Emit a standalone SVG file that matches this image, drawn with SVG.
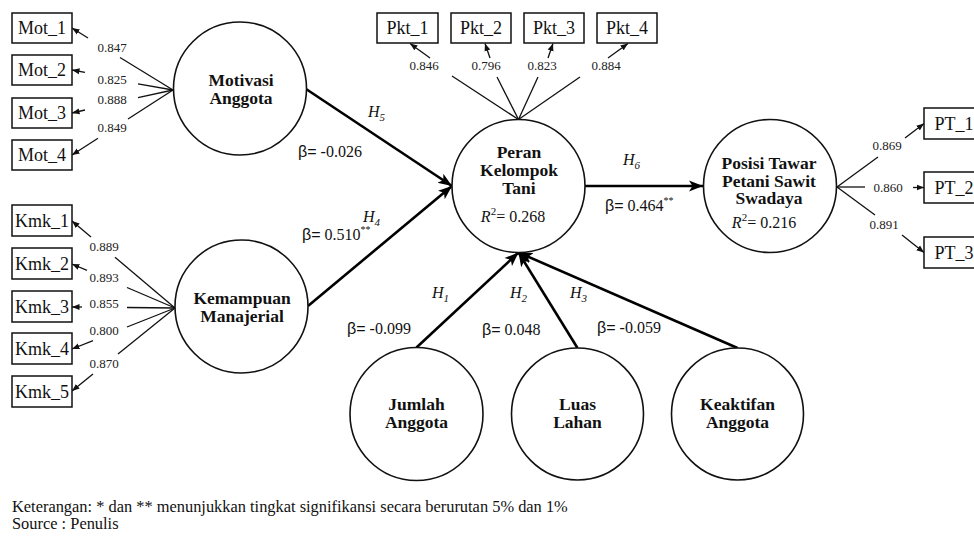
<svg xmlns="http://www.w3.org/2000/svg" width="974" height="537" viewBox="0 0 974 537">
<style>
text{font-family:"Liberation Serif","Times New Roman",serif;fill:#111}
.box{fill:#fff;stroke:#111;stroke-width:1.5}
.lv{fill:#fff;stroke:#111;stroke-width:1.6}
.bt{font-size:18px;text-anchor:middle}
.nm{font-size:17.5px;font-weight:bold;text-anchor:middle}
.ld{font-size:13px;text-anchor:middle;fill:#222}
.ind{stroke:#111;stroke-width:1.3;fill:none}
.pth{stroke:#000;stroke-width:2.6;fill:none}
.b{font-size:16px}
.s{font-family:"Liberation Sans",Arial,sans-serif}
.h{font-size:16px;font-style:italic}
.ft{font-size:16.4px}
</style>
<defs>
<marker id="sa" markerUnits="userSpaceOnUse" markerWidth="8" markerHeight="8" viewBox="0 0 8 8" refX="7.5" refY="4" orient="auto"><path d="M0,1 L7.5,4 L0,7 z" fill="#111"/></marker>
<marker id="la" markerUnits="userSpaceOnUse" markerWidth="15" markerHeight="12" viewBox="0 0 15 12" refX="14" refY="6" orient="auto"><path d="M0,0.5 L14,6 L0,11.5 L3.5,6 z" fill="#000"/></marker>
</defs>

<g id="connectors">
<line class="ind" x1="173" y1="90" x2="120" y2="57.5"/><line class="ind" x1="88" y1="38" x2="72" y2="28" marker-end="url(#sa)"/>
<line class="ind" x1="173" y1="90" x2="138" y2="83.8"/><line class="ind" x1="85" y1="72.3" x2="72" y2="70" marker-end="url(#sa)"/>
<line class="ind" x1="173" y1="90" x2="138" y2="97.6"/><line class="ind" x1="85" y1="110" x2="72" y2="113" marker-end="url(#sa)"/>
<line class="ind" x1="173" y1="90" x2="128" y2="119"/><line class="ind" x1="98" y1="138.3" x2="72" y2="155" marker-end="url(#sa)"/>
<line class="ind" x1="175" y1="308" x2="115" y2="257.3"/><line class="ind" x1="91" y1="237" x2="72" y2="221" marker-end="url(#sa)"/>
<line class="ind" x1="175" y1="308" x2="127" y2="287.5"/><line class="ind" x1="87" y1="270.4" x2="72" y2="264" marker-end="url(#sa)"/>
<line class="ind" x1="175" y1="308" x2="127" y2="307.5"/><line class="ind" x1="82" y1="307" x2="72" y2="307" marker-end="url(#sa)"/>
<line class="ind" x1="175" y1="308" x2="127" y2="327"/><line class="ind" x1="93" y1="340.6" x2="72" y2="349" marker-end="url(#sa)"/>
<line class="ind" x1="175" y1="308" x2="118" y2="354"/><line class="ind" x1="93" y1="374" x2="72" y2="391" marker-end="url(#sa)"/>
<line class="ind" x1="518.5" y1="119.5" x2="452" y2="76"/><line class="ind" x1="430" y1="58" x2="410" y2="43.5" marker-end="url(#sa)"/>
<line class="ind" x1="518.5" y1="119.5" x2="497" y2="77"/><line class="ind" x1="490" y1="58" x2="485" y2="43.5" marker-end="url(#sa)"/>
<line class="ind" x1="518.5" y1="119.5" x2="538" y2="77"/><line class="ind" x1="548" y1="58" x2="553" y2="43.5" marker-end="url(#sa)"/>
<line class="ind" x1="518.5" y1="119.5" x2="580" y2="77"/><line class="ind" x1="608" y1="58" x2="628" y2="43.5" marker-end="url(#sa)"/>
<line class="ind" x1="837" y1="187" x2="878" y2="157"/><line class="ind" x1="905" y1="138" x2="924" y2="123.5" marker-end="url(#sa)"/>
<line class="ind" x1="837" y1="187" x2="865" y2="187"/><line class="ind" x1="913" y1="187.5" x2="924" y2="187.5" marker-end="url(#sa)"/>
<line class="ind" x1="837" y1="187" x2="875" y2="215"/><line class="ind" x1="902" y1="235" x2="924" y2="252.5" marker-end="url(#sa)"/>
<line class="pth" x1="306" y1="89" x2="452" y2="186" marker-end="url(#la)"/>
<line class="pth" x1="308" y1="306" x2="452" y2="186" marker-end="url(#la)"/>
<line class="pth" x1="585" y1="186" x2="703" y2="186" marker-end="url(#la)"/>
<line class="pth" x1="416.5" y1="347.5" x2="518.5" y2="252.5" marker-end="url(#la)"/>
<line class="pth" x1="577.5" y1="348" x2="518.5" y2="252.5" marker-end="url(#la)"/>
<line class="pth" x1="737.5" y1="348" x2="518.5" y2="252.5" marker-end="url(#la)"/>
</g>

<g id="loadings">
<text class="ld" x="112" y="52">0.847</text>
<text class="ld" x="112" y="84">0.825</text>
<text class="ld" x="112" y="104">0.888</text>
<text class="ld" x="112" y="132">0.849</text>
<text class="ld" x="104" y="251">0.889</text>
<text class="ld" x="104" y="282">0.893</text>
<text class="ld" x="104" y="308">0.855</text>
<text class="ld" x="104" y="335">0.800</text>
<text class="ld" x="104" y="368">0.870</text>
<text class="ld" x="424" y="70">0.846</text>
<text class="ld" x="486" y="70">0.796</text>
<text class="ld" x="542" y="70">0.823</text>
<text class="ld" x="606" y="70">0.884</text>
<text class="ld" x="887" y="150">0.869</text>
<text class="ld" x="888" y="192">0.860</text>
<text class="ld" x="884" y="229">0.891</text>
</g>

<g id="path-labels">
<text class="h" x="368" y="117">H<tspan font-size="11" dy="4">5</tspan></text>
<text class="h" x="363" y="222">H<tspan font-size="11" dy="4">4</tspan></text>
<text class="h" x="623" y="165">H<tspan font-size="11" dy="4">6</tspan></text>
<text class="h" x="432" y="298">H<tspan font-size="11" dy="4">1</tspan></text>
<text class="h" x="510" y="298">H<tspan font-size="11" dy="4">2</tspan></text>
<text class="h" x="570" y="298">H<tspan font-size="11" dy="4">3</tspan></text>
<text class="b" x="298" y="157"><tspan class="s">β=</tspan> -0.026</text>
<text class="b" x="302" y="240"><tspan class="s">β=</tspan> 0.510<tspan font-size="10" dy="-7">**</tspan></text>
<text class="b" x="605" y="211"><tspan class="s">β=</tspan> 0.464<tspan font-size="10" dy="-7">**</tspan></text>
<text class="b" x="347" y="334"><tspan class="s">β=</tspan> -0.099</text>
<text class="b" x="482" y="335"><tspan class="s">β=</tspan> 0.048</text>
<text class="b" x="597" y="333"><tspan class="s">β=</tspan> -0.059</text>
</g>

<g id="Mot_1"><rect class="box" x="12" y="13" width="60" height="30"/><text class="bt" x="42" y="34">Mot_1</text></g>
<g id="Mot_2"><rect class="box" x="12" y="55" width="60" height="30"/><text class="bt" x="42" y="76">Mot_2</text></g>
<g id="Mot_3"><rect class="box" x="12" y="98" width="60" height="30"/><text class="bt" x="42" y="119">Mot_3</text></g>
<g id="Mot_4"><rect class="box" x="12" y="140" width="60" height="30"/><text class="bt" x="42" y="161">Mot_4</text></g>

<g id="Kmk_1"><rect class="box" x="12" y="205" width="60" height="31"/><text class="bt" x="42" y="227">Kmk_1</text></g>
<g id="Kmk_2"><rect class="box" x="12" y="248" width="60" height="31"/><text class="bt" x="42" y="270">Kmk_2</text></g>
<g id="Kmk_3"><rect class="box" x="12" y="291" width="60" height="31"/><text class="bt" x="42" y="313">Kmk_3</text></g>
<g id="Kmk_4"><rect class="box" x="12" y="333" width="60" height="31"/><text class="bt" x="42" y="355">Kmk_4</text></g>
<g id="Kmk_5"><rect class="box" x="12" y="376" width="60" height="31"/><text class="bt" x="42" y="398">Kmk_5</text></g>

<g id="Pkt_1"><rect class="box" x="377" y="13" width="61" height="30"/><text class="bt" x="407.5" y="34">Pkt_1</text></g>
<g id="Pkt_2"><rect class="box" x="451" y="13" width="60" height="30"/><text class="bt" x="481" y="34">Pkt_2</text></g>
<g id="Pkt_3"><rect class="box" x="524" y="13" width="60" height="30"/><text class="bt" x="554" y="34">Pkt_3</text></g>
<g id="Pkt_4"><rect class="box" x="597" y="13" width="60" height="30"/><text class="bt" x="627" y="34">Pkt_4</text></g>

<g id="PT_1"><rect class="box" x="924" y="108" width="60" height="31"/><text class="bt" x="954" y="130">PT_1</text></g>
<g id="PT_2"><rect class="box" x="924" y="172" width="60" height="31"/><text class="bt" x="954" y="194">PT_2</text></g>
<g id="PT_3"><rect class="box" x="924" y="237" width="60" height="31"/><text class="bt" x="954" y="259">PT_3</text></g>

<g id="motivasi"><circle class="lv" cx="240" cy="88.5" r="66.5"/><text class="nm" x="241" y="86">Motivasi</text><text class="nm" x="241" y="104">Anggota</text></g>
<g id="kemampuan"><circle class="lv" cx="241.5" cy="306.5" r="66.5"/><text class="nm" x="242" y="304">Kemampuan</text><text class="nm" x="242" y="322">Manajerial</text></g>
<g id="peran"><circle class="lv" cx="518.5" cy="186" r="66.5"/><text class="nm" x="519" y="158">Peran</text><text class="nm" x="519" y="176">Kelompok</text><text class="nm" x="519" y="193.5">Tani</text>
<text class="b" x="513" y="222" text-anchor="middle"><tspan font-style="italic">R</tspan><tspan font-size="11" dy="-7">2</tspan><tspan dy="7">= 0.268</tspan></text></g>
<g id="posisi"><circle class="lv" cx="770" cy="186" r="66.5"/><text class="nm" x="769" y="169">Posisi Tawar</text><text class="nm" x="769" y="186.5">Petani Sawit</text><text class="nm" x="769" y="204">Swadaya</text>
<text class="b" x="764" y="228" text-anchor="middle"><tspan font-style="italic">R</tspan><tspan font-size="11" dy="-7">2</tspan><tspan dy="7">= 0.216</tspan></text></g>
<g id="jumlah"><circle class="lv" cx="416.5" cy="414" r="66.5"/><text class="nm" x="416.5" y="410">Jumlah</text><text class="nm" x="416.5" y="428">Anggota</text></g>
<g id="luas"><circle class="lv" cx="577.5" cy="414" r="66"/><text class="nm" x="577.5" y="410">Luas</text><text class="nm" x="577.5" y="428">Lahan</text></g>
<g id="keaktifan"><circle class="lv" cx="737.5" cy="414" r="66"/><text class="nm" x="737.5" y="410">Keaktifan</text><text class="nm" x="737.5" y="428">Anggota</text></g>

<g id="footer">
<text class="ft" x="12" y="512">Keterangan: * dan ** menunjukkan tingkat signifikansi secara berurutan 5% dan 1%</text>
<text class="ft" x="12" y="529">Source : Penulis</text>
</g>
</svg>
